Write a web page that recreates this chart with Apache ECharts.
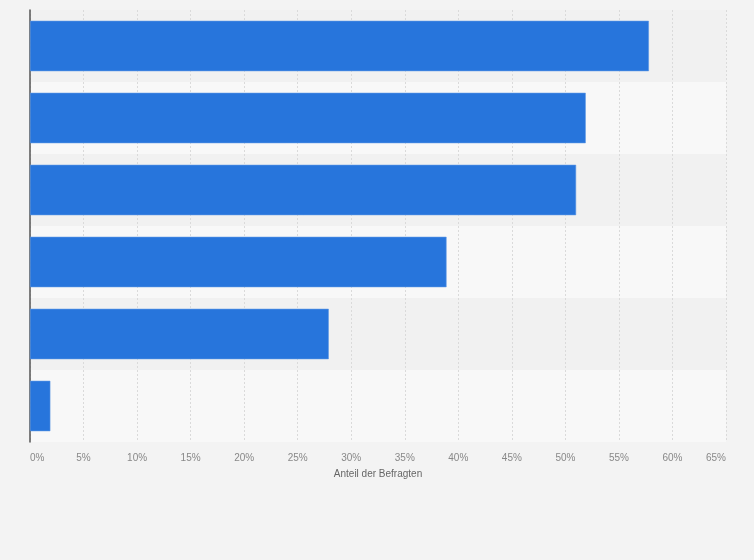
<!DOCTYPE html>
<html>
<head>
<meta charset="utf-8">
<script src="https://cdn.jsdelivr.net/npm/echarts@6/dist/echarts.min.js"></script>
<style>
  html, body { margin: 0; padding: 0; background: #f3f3f3; }
  #main { width: 754px; height: 560px; }
</style>
</head>
<body>
<div id="main"></div>
<script>
// Kategorien (ohne sichtbare Beschriftung im Original)
var categories = ['A', 'B', 'C', 'D', 'E', 'F'];
// Anteil der Befragten in Prozent
var values = [57.8, 51.9, 51, 38.9, 27.9, 1.9];
// Achsenbeschriftungen
var tickValues = [0, 5, 10, 15, 20, 25, 30, 35, 40, 45, 50, 55, 60, 65];

var myChart = echarts.init(document.getElementById('main'));

var option = {
    backgroundColor: '#f3f3f3',
    animation: false,
    grid: {
        left: 30,
        right: 28,
        top: 10,
        bottom: 118
    },
    xAxis: {
        type: 'value',
        min: tickValues[0],
        max: tickValues[tickValues.length - 1],
        interval: 5,
        name: 'Anteil der Befragten',
        nameLocation: 'middle',
        nameGap: 27,
        nameTextStyle: { color: '#666', fontSize: 10, fontFamily: 'Liberation Sans' },
        axisLine: { show: false },
        axisTick: { show: false },
        axisLabel: {
            color: '#888',
            fontSize: 10,
            fontFamily: 'Liberation Sans',
            margin: 11,
            alignMinLabel: 'left',
            alignMaxLabel: 'right',
            formatter: '{value}%'
        },
        splitLine: {
            show: true,
            lineStyle: { color: '#dadada', type: [2, 2], width: 1 }
        }
    },
    yAxis: {
        type: 'category',
        data: categories,
        inverse: true,
        axisLine: { show: true, lineStyle: { color: '#555', width: 1.5 } },
        axisTick: { show: false },
        axisLabel: { show: false },
        splitArea: {
            show: true,
            areaStyle: { color: ['#f1f1f1', '#f8f8f8'] }
        }
    },
    series: [{
        type: 'bar',
        data: values,
        barCategoryGap: '30%',
        itemStyle: {
            color: '#2775dc',
            borderColor: '#5b95e4',
            borderWidth: 0.6
        }
    }]
};

myChart.setOption(option);
</script>
</body>
</html>
